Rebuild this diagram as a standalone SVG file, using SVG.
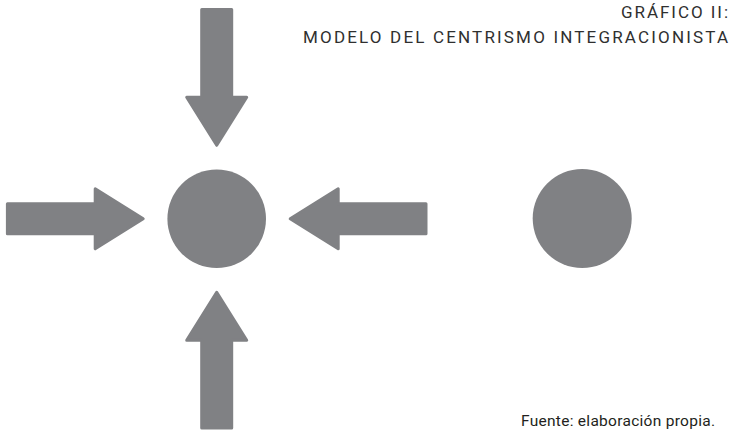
<svg xmlns="http://www.w3.org/2000/svg" width="730" height="431" viewBox="0 0 730 431">
<style>
.shape{fill:#808184;stroke:#808184;stroke-width:3;stroke-linejoin:round}
.title{font-family:Roboto,"Liberation Sans",sans-serif;font-size:17px;fill:#2f2f2f}
.note{font-family:Roboto,"Liberation Sans",sans-serif;font-size:15.5px;fill:#231f20}
</style>
<defs>
<path id="arr" d="M-209.3,-15 L-121.5,-15 L-121.5,-30 L-73.5,0 L-121.5,30 L-121.5,15 L-209.3,15 Z"/>
</defs>
<rect width="730" height="431" fill="#fff"/>
<g id="connectors" transform="translate(216.7,218.8)">
<use href="#arr" class="shape" transform="rotate(90)"/>
<use href="#arr" class="shape" transform="rotate(0)"/>
<use href="#arr" class="shape" transform="rotate(180)"/>
<use href="#arr" class="shape" transform="rotate(270)"/>
</g>
<g id="center"><circle cx="216.7" cy="218.8" r="49.3" fill="#808184"/></g>
<g id="outside"><circle cx="582.2" cy="218.5" r="49.5" fill="#808184"/></g>
<g id="title">
<text class="title" x="621" y="17.5" textLength="107" lengthAdjust="spacing">GRÁFICO II:</text>
<text class="title" x="303" y="43.3" textLength="425" lengthAdjust="spacing">MODELO DEL CENTRISMO INTEGRACIONISTA</text>
</g>
<g id="source"><text class="note" x="521" y="426" textLength="194" lengthAdjust="spacing">Fuente: elaboración propia.</text></g>
</svg>
